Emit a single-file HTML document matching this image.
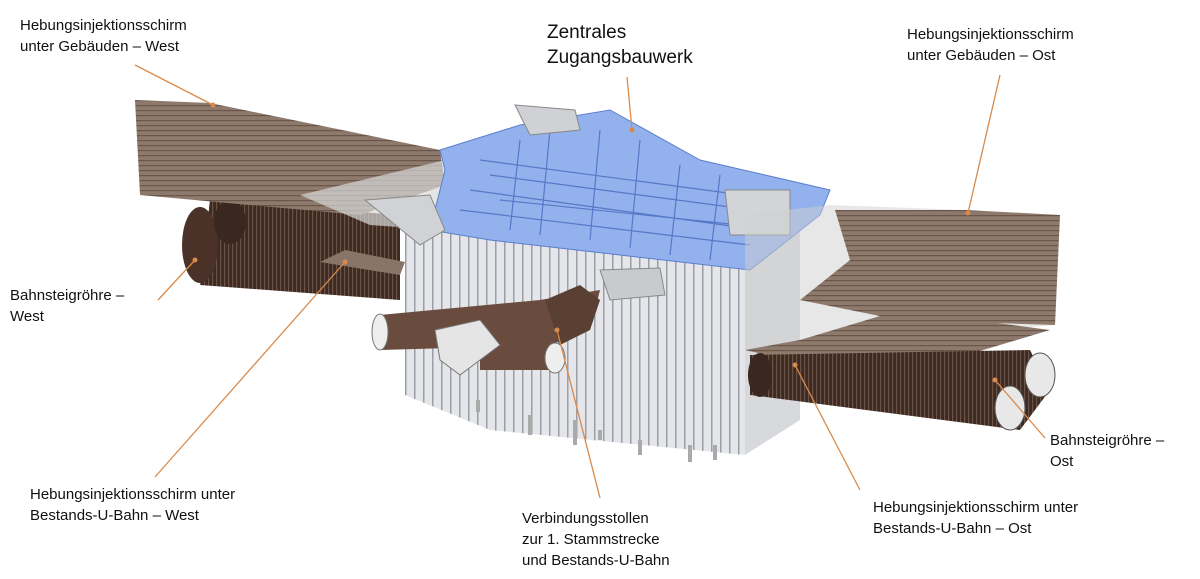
<!DOCTYPE html>
<html><head><meta charset="utf-8"><style>
body{margin:0;background:#fff;}
.w{position:relative;width:1200px;height:579px;overflow:hidden;font-family:"Liberation Sans",Arial,sans-serif;color:#111;}
.t{position:absolute;font-size:15px;line-height:21px;}
svg{position:absolute;left:0;top:0;}
</style></head><body><div class="w">
<svg width="1200" height="579" viewBox="0 0 1200 579">
<defs>
<pattern id="vs" width="9" height="10" patternUnits="userSpaceOnUse"><rect width="9" height="10" fill="#e4e6ea"/><rect width="1.5" height="10" fill="#9a9ea6"/></pattern>
<pattern id="br" width="10" height="5" patternUnits="userSpaceOnUse"><rect width="10" height="5" fill="#8e7a6c"/><rect width="10" height="1.2" fill="#6a564a"/></pattern>
<pattern id="tb" width="4" height="10" patternUnits="userSpaceOnUse"><rect width="4" height="10" fill="#3d2a22"/><rect width="1.2" height="10" fill="#6b5246"/></pattern>
</defs>
<!-- west tubes -->
<polygon points="210,200 400,215 400,300 200,285" fill="url(#tb)"/>
<ellipse cx="200" cy="245" rx="18" ry="38" fill="#4a3229"/>
<ellipse cx="230" cy="222" rx="16" ry="22" fill="#3a271f"/>
<!-- west sheets -->
<polygon points="135,100 210,103 440,150 445,185 360,215 140,195" fill="url(#br)"/>
<polygon points="300,195 445,160 440,230 370,225" fill="#d8d8d8" opacity="0.7"/>
<polygon points="320,262 345,250 405,262 400,275" fill="#8a7468"/>
<!-- central walls -->
<polygon points="405,220 490,235 490,430 405,395" fill="url(#vs)"/>
<polygon points="490,235 745,265 745,455 490,430" fill="url(#vs)"/>
<polygon points="745,265 800,225 800,420 745,455" fill="#d7d9dd"/>
<g stroke="#aaa" stroke-width="4">
<line x1="478" y1="400" x2="478" y2="412"/><line x1="530" y1="415" x2="530" y2="435"/><line x1="575" y1="420" x2="575" y2="445"/><line x1="600" y1="430" x2="600" y2="440"/><line x1="640" y1="440" x2="640" y2="455"/><line x1="690" y1="445" x2="690" y2="462"/><line x1="715" y1="445" x2="715" y2="460"/></g>
<!-- blue top -->
<polygon points="440,150 520,125 610,110 700,160 830,190 820,215 750,270 490,240 430,230 445,170" fill="#93b1ec" stroke="#5b7fce"/>
<g stroke="#5578c8" stroke-width="1.2" fill="none">
<path d="M480,160 L780,200 M470,190 L760,230 M520,140 L510,230 M600,130 L590,240 M680,165 L670,255 M500,200 L740,225 M460,210 L750,245 M550,130 L540,235 M640,140 L630,248 M720,175 L710,260 M490,175 L790,215"/></g>
<polygon points="365,200 430,195 445,230 420,245" fill="#d0d2d6" stroke="#888"/>
<polygon points="600,270 660,268 665,295 610,300" fill="#c8cacd" stroke="#888"/>
<polygon points="515,105 575,110 580,130 530,135" fill="#cfd1d4" stroke="#888"/>
<polygon points="725,190 790,190 790,235 730,235" fill="#d2d4d7" stroke="#888"/>
<!-- east sheets -->
<polygon points="745,215 830,205 965,210 1060,215 1055,325 830,345 745,350 745,280" fill="#cfcfcf" opacity="0.5"/>
<polygon points="835,210 965,210 1060,215 1055,325 900,320 800,300 850,260" fill="url(#br)"/>
<polygon points="745,350 800,340 900,310 1050,330 950,360 790,360" fill="url(#br)"/>
<!-- east tubes -->
<polygon points="750,355 1030,350 1050,390 1020,430 750,395" fill="url(#tb)"/>
<ellipse cx="1040" cy="375" rx="15" ry="22" fill="#e8e8e8" stroke="#555"/>
<ellipse cx="1010" cy="408" rx="15" ry="22" fill="#e8e8e8" stroke="#555"/>
<ellipse cx="760" cy="375" rx="12" ry="22" fill="#3a271f"/>
<!-- connection tunnel -->
<polygon points="380,315 540,300 600,290 590,330 550,345 380,350" fill="#6a4c3f"/>
<polygon points="545,300 580,285 600,300 590,330 560,345" fill="#5a3f33"/>
<polygon points="480,340 555,345 555,370 480,370" fill="#6a4c3f"/>
<ellipse cx="380" cy="332" rx="8" ry="18" fill="#eee" stroke="#777"/>
<polygon points="435,330 480,320 500,345 460,375 440,360" fill="#e5e5e5" stroke="#777"/>
<ellipse cx="555" cy="358" rx="10" ry="15" fill="#eee" stroke="#777"/>
<!-- leaders -->
<g stroke="#d98a4a" stroke-width="1.3" fill="none">
<line x1="135" y1="65" x2="213" y2="105"/>
<line x1="627" y1="77" x2="632" y2="130"/>
<line x1="1000" y1="75" x2="968" y2="213"/>
<line x1="158" y1="300" x2="195" y2="260"/>
<line x1="155" y1="477" x2="345" y2="262"/>
<line x1="600" y1="498" x2="557" y2="330"/>
<line x1="1045" y1="438" x2="995" y2="380"/>
<line x1="860" y1="490" x2="795" y2="365"/>
</g>
<g fill="#d98a4a">
<circle cx="213" cy="105" r="2.5"/><circle cx="632" cy="130" r="2.5"/><circle cx="968" cy="213" r="2.5"/><circle cx="195" cy="260" r="2.5"/><circle cx="345" cy="262" r="2.5"/><circle cx="557" cy="330" r="2.5"/><circle cx="995" cy="380" r="2.5"/><circle cx="795" cy="365" r="2.5"/></g>
</svg>
<div class="t" style="left:20px;top:15px">Hebungsinjektionsschirm<br>unter Gebäuden – West</div>
<div class="t" style="left:547px;top:20px;font-size:19px;line-height:25px">Zentrales<br>Zugangsbauwerk</div>
<div class="t" style="left:907px;top:24px">Hebungsinjektionsschirm<br>unter Gebäuden – Ost</div>
<div class="t" style="left:10px;top:285px">Bahnsteigröhre –<br>West</div>
<div class="t" style="left:30px;top:484px">Hebungsinjektionsschirm unter<br>Bestands-U-Bahn – West</div>
<div class="t" style="left:522px;top:508px">Verbindungsstollen<br>zur 1. Stammstrecke<br>und Bestands-U-Bahn</div>
<div class="t" style="left:1050px;top:430px">Bahnsteigröhre –<br>Ost</div>
<div class="t" style="left:873px;top:497px">Hebungsinjektionsschirm unter<br>Bestands-U-Bahn – Ost</div>
</div></body></html>
